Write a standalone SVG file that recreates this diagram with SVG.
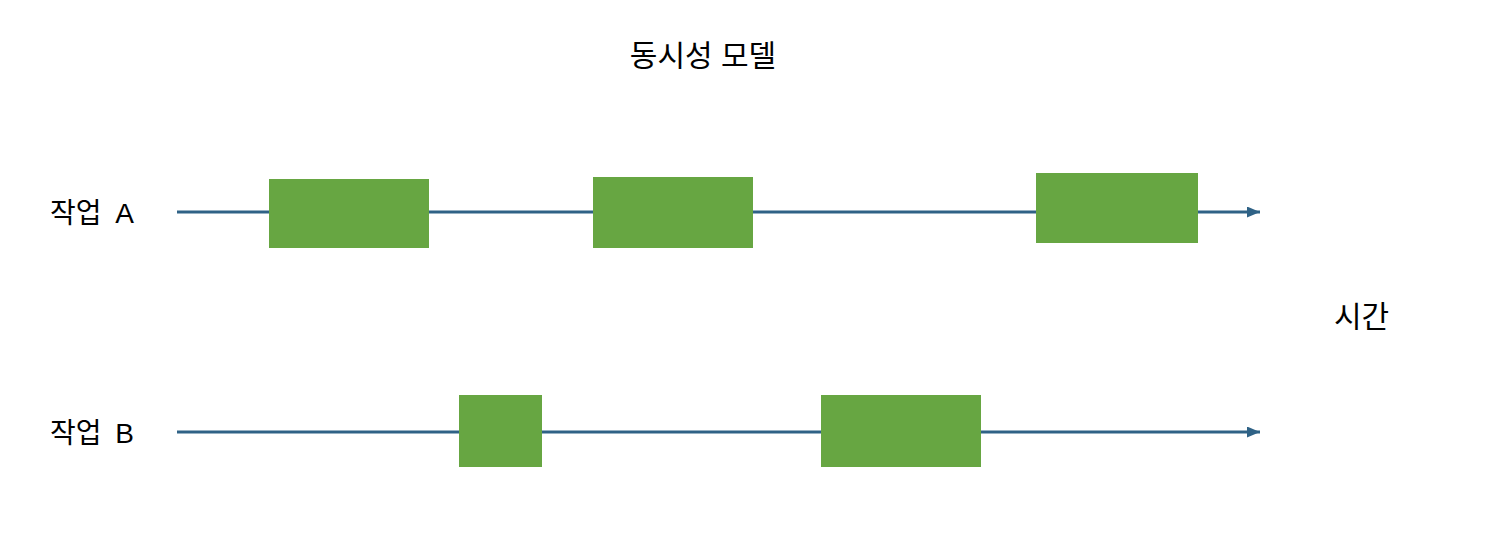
<svg xmlns="http://www.w3.org/2000/svg" width="1498" height="540" viewBox="0 0 1498 540">
<style>
.t{font-family:"Liberation Sans","Noto Sans CJK KR",sans-serif;fill:#000;}
.box{fill:#67a642;}
.ln{stroke:#2f6286;stroke-width:3;fill:none;}
</style>
<defs>
<marker id="ah" markerWidth="13" markerHeight="11" refX="13" refY="5.5" orient="auto" markerUnits="userSpaceOnUse">
<path d="M0,0 L13,5.5 L0,11 z" fill="#2f6286"/>
</marker>
</defs>
<rect width="1498" height="540" fill="#fff"/>
<text class="t" x="703" y="66" font-size="30" text-anchor="middle">동시성 모델</text>
<text class="t" x="50" y="223" font-size="28" word-spacing="6">작업 A</text>
<text class="t" x="50" y="443" font-size="28" word-spacing="6">작업 B</text>
<text class="t" x="1334" y="327" font-size="30">시간</text>
<g id="connectors">
<line class="ln" x1="177" y1="212" x2="1260" y2="212" marker-end="url(#ah)"/>
<line class="ln" x1="177" y1="432" x2="1260" y2="432" marker-end="url(#ah)"/>
</g>
<g id="a1"><rect class="box" x="269" y="179" width="160" height="69"/></g>
<g id="a2"><rect class="box" x="593" y="177" width="160" height="71"/></g>
<g id="a3"><rect class="box" x="1036" y="173" width="162" height="70"/></g>
<g id="b1"><rect class="box" x="459" y="395" width="83" height="72"/></g>
<g id="b2"><rect class="box" x="821" y="395" width="160" height="72"/></g>
</svg>
